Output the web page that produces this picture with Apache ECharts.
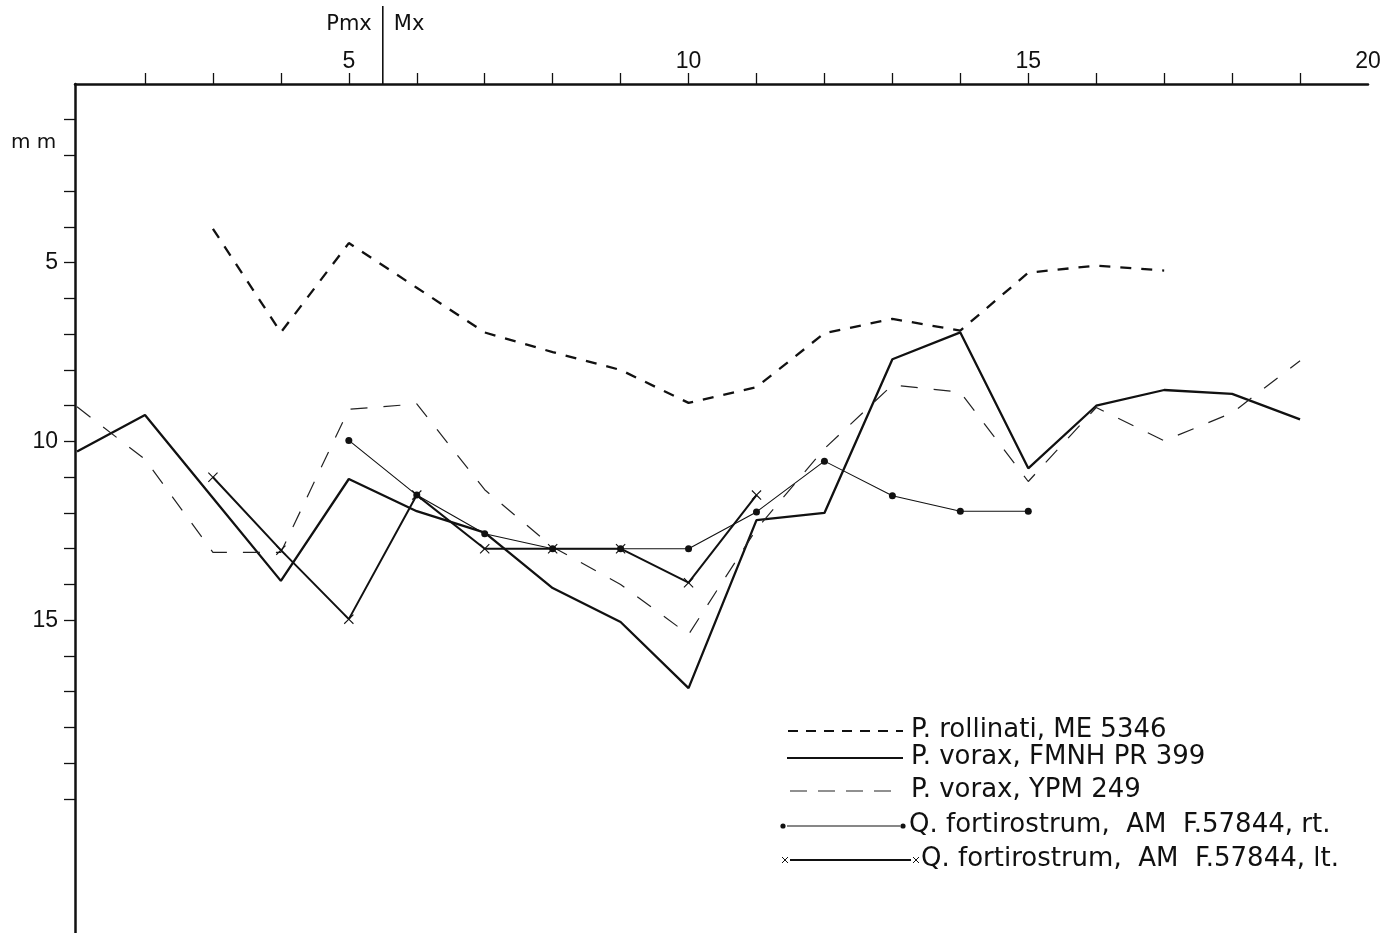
<!DOCTYPE html>
<html>
<head>
<meta charset="utf-8">
<script src="https://cdn.jsdelivr.net/npm/echarts@6/dist/echarts.min.js"></script>
<style>
html,body{margin:0;padding:0;background:#ffffff;}
#chart{width:1393px;height:933px;}
</style>
</head>
<body>
<div id="chart"></div>
<script>
// ---- data (tooth position along the row, mm values measured downward) ----
const toothPositions = [1,2,3,4,5,6,7,8,9,10,11,12,13,14,15,16,17,18,19];
const rollinatiME5346 = [null,null,4.05,6.95,4.45,5.7,6.95,7.5,8.0,8.92,8.48,6.97,6.57,6.9,5.28,5.08,5.22,null,null];
const voraxFMNH399   = [10.28,9.26,11.58,13.9,11.05,11.95,12.55,14.1,15.05,16.9,12.2,12.0,7.7,6.95,10.75,9.0,8.56,8.67,9.38];
const voraxYPM249    = [9.03,10.5,13.1,13.1,9.1,8.95,11.35,12.95,14.0,15.4,12.45,10.2,8.42,8.62,11.12,9.05,9.98,9.2,7.74];
const fortiRight     = [null,null,null,null,9.97,11.5,12.58,13.0,13.0,13.0,11.97,10.55,11.52,11.95,11.95,null,null,null,null];
const fortiLeft      = [null,null,11.0,13.04,14.97,11.5,13.0,13.0,13.0,13.95,11.5,null,null,null,null,null,null,null,null];

const seriesNames = [
  'P. rollinati, ME 5346',
  'P. vorax, FMNH PR 399',
  'P. vorax, YPM 249',
  'Q. fortirostrum,  AM  F.57844, rt.',
  'Q. fortirostrum,  AM  F.57844, lt.'
];

const xTickValues  = [2,3,4,5,6,7,8,9,10,11,12,13,14,15,16,17,18,19];
const xLabelValues = [5,10,15,20];
const yTickValues  = [1,2,3,4,5,6,7,8,9,10,11,12,13,14,15,16,17,18,19,20];
const yLabelValues = [5,10,15];
const pmxMxBoundary = 5.5;
const regionLabels = ['Pmx','Mx'];
const unitLabel = 'm m';

// ---- helpers ----
function pairs(vals){
  const out = [];
  toothPositions.forEach((x,i)=>{ if(vals[i]!=null) out.push([x, vals[i]]); });
  return out;
}
const INK = '#111111';
const crossPath = 'path://M0,0.8 L0.8,0 L5,4.2 L9.2,0 L10,0.8 L5.8,5 L10,9.2 L9.2,10 L5,5.8 L0.8,10 L0,9.2 L4.2,5 Z';

const chart = echarts.init(document.getElementById('chart'), null, {renderer:'canvas'});

const option = {
  animation:false,
  backgroundColor:'#ffffff',
  grid:{left:75, right:25, top:84, bottom:0, containLabel:false},
  xAxis:{
    type:'value', position:'top', min:0.97, max:20,
    axisLine:{show:true, onZero:false, lineStyle:{color:INK, width:2.5}},
    axisTick:{show:true, inside:false, length:11, customValues:xTickValues, lineStyle:{color:INK, width:1.3}},
    axisLabel:{show:true, customValues:xLabelValues, margin:11, fontSize:23, color:INK, fontFamily:'Liberation Sans'},
    splitLine:{show:false}
  },
  yAxis:{
    type:'value', inverse:true, min:0, max:23.75,
    axisLine:{show:true, onZero:false, lineStyle:{color:INK, width:2.5}},
    axisTick:{show:true, inside:false, length:11, customValues:yTickValues, lineStyle:{color:INK, width:1.3}},
    axisLabel:{show:true, customValues:yLabelValues, margin:17, fontSize:23, color:INK, fontFamily:'Liberation Sans'},
    splitLine:{show:false}
  },
  series:[
    {type:'line', name:seriesNames[0], data:pairs(rollinatiME5346), symbol:'none', silent:true,
     lineStyle:{color:INK, width:2.3, type:[11,10]}},
    {type:'line', name:seriesNames[1], data:pairs(voraxFMNH399), symbol:'none', silent:true,
     lineStyle:{color:INK, width:2.3}},
    {type:'line', name:seriesNames[2], data:pairs(voraxYPM249), symbol:'none', silent:true,
     lineStyle:{color:'#222222', width:1.2, type:[17,16]}},
    {type:'line', name:seriesNames[3], data:pairs(fortiRight), symbol:'circle', symbolSize:7, showAllSymbol:true, silent:true,
     itemStyle:{color:INK}, lineStyle:{color:INK, width:1.1}},
    {type:'line', name:seriesNames[4], data:pairs(fortiLeft), symbol:crossPath, symbolSize:10, showAllSymbol:true, silent:true,
     itemStyle:{color:INK}, lineStyle:{color:INK, width:2}}
  ]
};
chart.setOption(option);

// ---- annotations & hand-drawn style legend ----
const bx = chart.convertToPixel({xAxisIndex:0}, pmxMxBoundary);
const axisTopY = chart.convertToPixel({yAxisIndex:0}, 0);
const textFont = 'DejaVu Sans';

const graphics = [
  {type:'line', shape:{x1:bx, y1:6, x2:bx, y2:axisTopY}, style:{stroke:INK, lineWidth:1.6}, silent:true},
  {type:'text', x:bx-11, y:25, style:{text:regionLabels[0], fill:INK, font:'21px "'+textFont+'"', align:'right', verticalAlign:'middle'}, silent:true},
  {type:'text', x:bx+11, y:25, style:{text:regionLabels[1], fill:INK, font:'21px "'+textFont+'"', align:'left', verticalAlign:'middle'}, silent:true},
  {type:'text', x:11, y:143, style:{text:unitLabel, fill:INK, font:'20px "'+textFont+'"', align:'left', verticalAlign:'middle'}, silent:true}
];

const legendRows = [
  {y:731, x1:788, x2:903, w:2.2, dash:[10,8], color:INK, mark:null, tx:911},
  {y:758, x1:787, x2:903, w:2.2, dash:null, color:INK, mark:null, tx:911},
  {y:791, x1:790, x2:900, w:1.2, dash:[17,11], color:'#222222', mark:null, tx:911},
  {y:826, x1:787, x2:900, w:1.1, dash:null, color:INK, mark:'dot', m1:783, m2:903, tx:909},
  {y:860, x1:790, x2:911, w:2, dash:null, color:INK, mark:'cross', m1:785, m2:916, tx:921}
];
legendRows.forEach((r,i)=>{
  const ls = {stroke:r.color, lineWidth:r.w};
  if(r.dash) ls.lineDash = r.dash;
  graphics.push({type:'line', shape:{x1:r.x1, y1:r.y, x2:r.x2, y2:r.y}, style:ls, silent:true});
  if(r.mark==='dot'){
    [r.m1, r.m2].forEach(mx=>graphics.push({type:'circle', shape:{cx:mx, cy:r.y, r:2.6}, style:{fill:INK}, silent:true}));
  } else if(r.mark==='cross'){
    [r.m1, r.m2].forEach(mx=>{
      graphics.push({type:'line', shape:{x1:mx-3, y1:r.y-3, x2:mx+3, y2:r.y+3}, style:{stroke:INK, lineWidth:1}, silent:true});
      graphics.push({type:'line', shape:{x1:mx-3, y1:r.y+3, x2:mx+3, y2:r.y-3}, style:{stroke:INK, lineWidth:1}, silent:true});
    });
  }
  graphics.push({type:'text', x:r.tx, y:r.y-1, style:{text:seriesNames[i], fill:INK, font:'26px "'+textFont+'"', align:'left', verticalAlign:'middle'}, silent:true});
});

chart.setOption({graphic:graphics});
</script>
</body>
</html>
